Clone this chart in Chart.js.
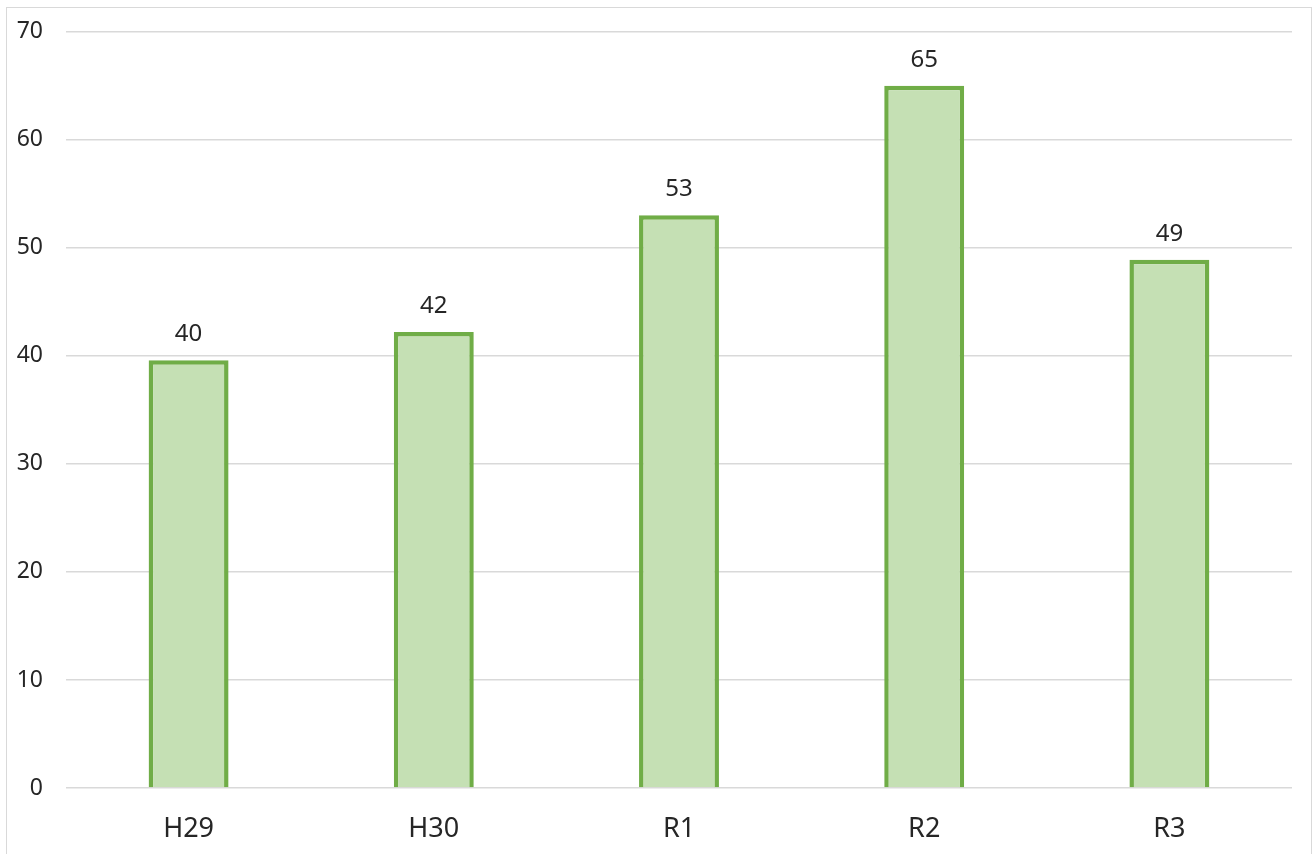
<!DOCTYPE html>
<html>
<head>
<meta charset="utf-8">
<script src="https://cdn.jsdelivr.net/npm/chart.js@4"></script>
<style>
  html, body { margin: 0; padding: 0; background: #fff; }
  #wrap { position: relative; width: 1313px; height: 854px; overflow: hidden; }
  #frame { position: absolute; left: 6px; top: 7px; width: 1304px; height: 900px; border: 1px solid #d9d9d9; pointer-events: none; }
  canvas { position: absolute; left: 0; top: 0; }
</style>
</head>
<body>
<div id="wrap">
  <canvas id="c" width="1313" height="854"></canvas>
  <div id="frame"></div>
</div>
<script>
const categories = ["H29", "H30", "R1", "R2", "R3"];
const values = [39.6, 42.2, 53.0, 65.0, 48.9];
const yTicks = [0, 10, 20, 30, 40, 50, 60, 70];

const labelPlugin = {
  id: 'barLabels',
  afterDatasetsDraw(chart) {
    const ctx = chart.ctx;
    const meta = chart.getDatasetMeta(0);
    ctx.save();
    ctx.font = '24px "Noto Sans", "Open Sans", sans-serif';
    ctx.fillStyle = '#262626';
    ctx.textAlign = 'center';
    ctx.textBaseline = 'middle';
    meta.data.forEach((bar, i) => {
      ctx.fillText(String(Math.round(values[i])), bar.x, bar.y - 26);
    });
    ctx.restore();
  }
};

new Chart(document.getElementById('c'), {
  type: 'bar',
  data: {
    labels: categories,
    datasets: [{
      data: values,
      backgroundColor: '#c5e0b4',
      borderColor: '#70ad47',
      borderWidth: 4.5,
      borderSkipped: 'bottom',
      categoryPercentage: 1,
      barPercentage: 0.326
    }]
  },
  options: {
    responsive: false,
    animation: false,
    devicePixelRatio: 1,
    layout: { padding: { left: 0, right: 21, top: 31.7, bottom: 0 } },
    plugins: { legend: { display: false }, tooltip: { enabled: false } },
    scales: {
      x: {
        grid: { display: false, drawTicks: false },
        border: { display: false },
        ticks: { color: '#262626', font: { family: '"Noto Sans", "Open Sans", sans-serif', size: 27 }, padding: 25, maxRotation: 0 },
        afterFit(scale) { scale.height = 66; }
      },
      y: {
        min: 0, max: 70,
        afterBuildTicks(scale) { scale.ticks = yTicks.map(v => ({ value: v })); },
        grid: { color: '#d9d9d9', lineWidth: 1.5, drawTicks: false },
        border: { display: false },
        ticks: { color: '#262626', font: { family: '"Noto Sans", "Open Sans", sans-serif', size: 23 }, padding: 23 },
        afterFit(scale) { scale.width = 66; scale.paddingTop = 0; scale.paddingBottom = 0; }
      }
    }
  },
  plugins: [labelPlugin]
});
</script>
</body>
</html>
